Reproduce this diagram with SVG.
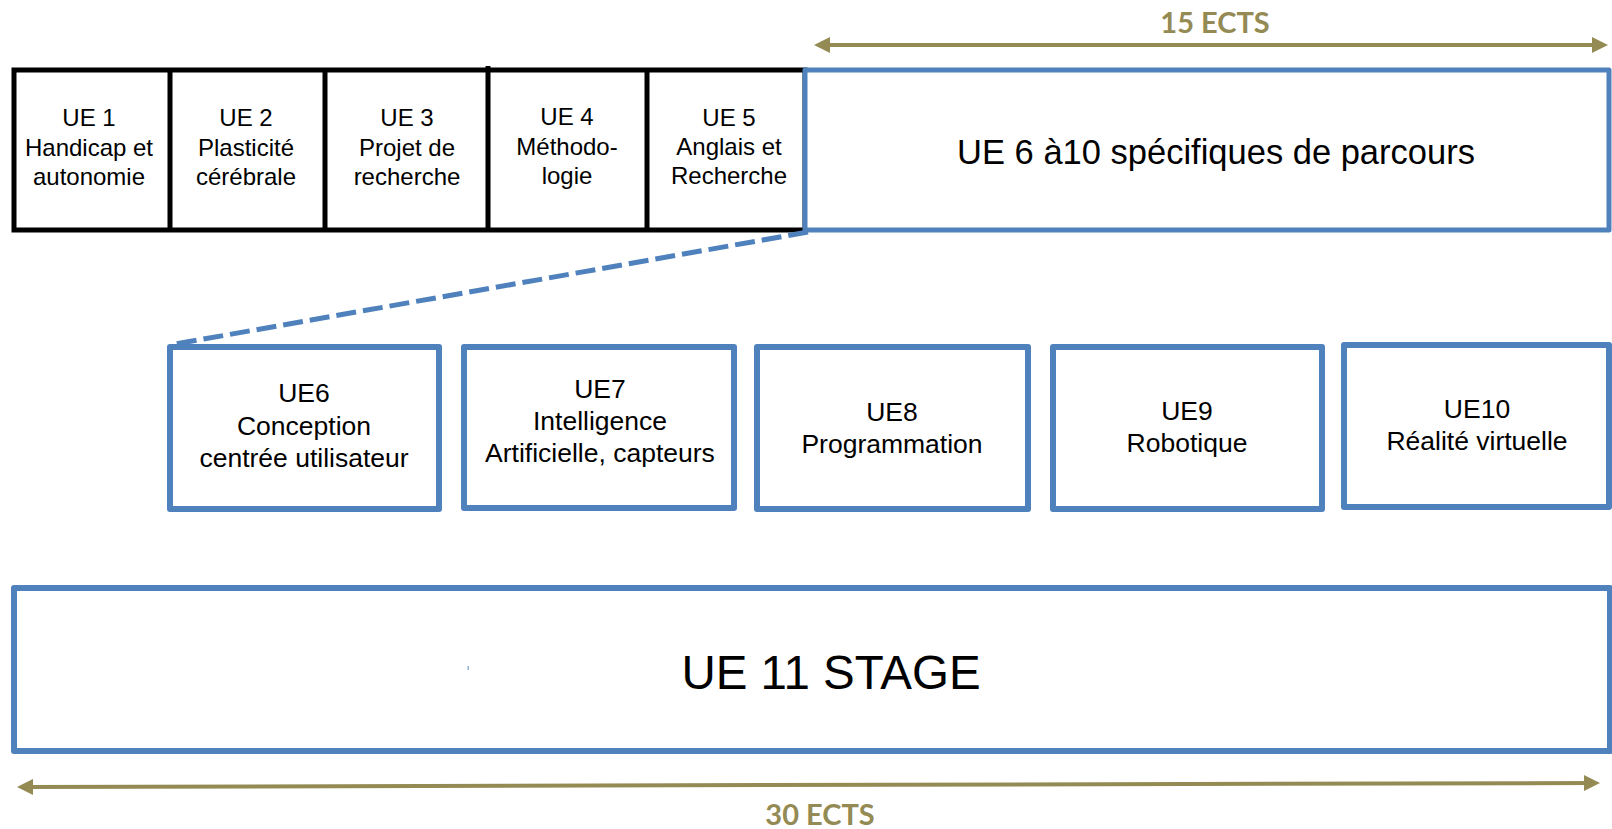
<svg xmlns="http://www.w3.org/2000/svg" width="1612" height="829" viewBox="0 0 1612 829">
  <style>
    .t { font-family: "Liberation Sans", Arial, sans-serif; fill: #000; text-anchor: middle; }
    .s { font-size: 24px; }
    .m { font-size: 26.5px; }
    .blk { fill: #fff; stroke: #000; stroke-width: 5; }
    .div { stroke: #000; stroke-width: 5; }
    .blu { fill: #fff; stroke: #4F81BD; stroke-width: 6; stroke-linejoin: round; }
    .ects { font-family: Lato, "Open Sans", sans-serif; font-weight: 700; font-size: 29px; fill: #948A54; text-anchor: middle; }
    .arr { stroke: #948A54; stroke-width: 4; fill: none; marker-start: url(#ah); marker-end: url(#ah); }
  </style>
  <defs>
    <marker id="ah" viewBox="0 0 16 16" refX="12" refY="8" markerWidth="16" markerHeight="16" markerUnits="userSpaceOnUse" orient="auto-start-reverse">
      <path d="M0,0 L16,8 L0,16 z" fill="#948A54"/>
    </marker>
  </defs>
  <rect width="1612" height="829" fill="#fff"/>

  <g id="top-row">
    <rect class="blk" x="14" y="70" width="791" height="160"/>
    <line class="div" x1="170" y1="70" x2="170" y2="230"/>
    <line class="div" x1="325" y1="70" x2="325" y2="230"/>
    <line class="div" x1="488" y1="66" x2="488" y2="228"/>
    <line class="div" x1="647" y1="70" x2="647" y2="230"/>
  </g>
  <g id="ue1">
    <text class="t s" x="89" y="126">UE 1</text>
    <text class="t s" x="89" y="156">Handicap et</text>
    <text class="t s" x="89" y="185">autonomie</text>
  </g>
  <g id="ue2">
    <text class="t s" x="246" y="126">UE 2</text>
    <text class="t s" x="246" y="156">Plasticité</text>
    <text class="t s" x="246" y="185">cérébrale</text>
  </g>
  <g id="ue3">
    <text class="t s" x="407" y="126">UE 3</text>
    <text class="t s" x="407" y="156">Projet de</text>
    <text class="t s" x="407" y="185">recherche</text>
  </g>
  <g id="ue4">
    <text class="t s" x="567" y="125">UE 4</text>
    <text class="t s" x="567" y="155">Méthodo-</text>
    <text class="t s" x="567" y="184">logie</text>
  </g>
  <g id="ue5">
    <text class="t s" x="729" y="126">UE 5</text>
    <text class="t s" x="729" y="155">Anglais et</text>
    <text class="t s" x="729" y="184">Recherche</text>
  </g>
  <g id="ue6-10">
    <rect class="blu" x="805" y="70" width="804" height="160" style="stroke-width:5"/>
    <text class="t" x="1216" y="164" style="font-size:34.5px">UE 6 à10 spécifiques de parcours</text>
  </g>

  <g id="connectors">
    <line x1="808" y1="232" x2="170" y2="345" stroke="#4F81BD" stroke-width="5" stroke-dasharray="20 7"/>
    <line class="arr" x1="818" y1="45" x2="1604" y2="45"/>
    <line class="arr" x1="21" y1="787" x2="1596" y2="783"/>
  </g>

  <g id="ue6">
    <rect class="blu" x="170" y="347" width="269" height="162"/>
    <text class="t m" x="304" y="402">UE6</text>
    <text class="t m" x="304" y="435">Conception</text>
    <text class="t m" x="304" y="467">centrée utilisateur</text>
  </g>
  <g id="ue7">
    <rect class="blu" x="464" y="347" width="270" height="161"/>
    <text class="t m" x="600" y="398">UE7</text>
    <text class="t m" x="600" y="430">Intelligence</text>
    <text class="t m" x="600" y="462">Artificielle, capteurs</text>
  </g>
  <g id="ue8">
    <rect class="blu" x="757" y="347" width="271" height="162"/>
    <text class="t m" x="892" y="421">UE8</text>
    <text class="t m" x="892" y="453">Programmation</text>
  </g>
  <g id="ue9">
    <rect class="blu" x="1053" y="347" width="269" height="162"/>
    <text class="t m" x="1187" y="420">UE9</text>
    <text class="t m" x="1187" y="452">Robotique</text>
  </g>
  <g id="ue10">
    <rect class="blu" x="1344" y="345" width="265" height="162"/>
    <text class="t m" x="1477" y="418">UE10</text>
    <text class="t m" x="1477" y="450">Réalité virtuelle</text>
  </g>

  <g id="ue11">
    <rect class="blu" x="14" y="588" width="1596" height="163"/>
    <text class="t" x="831" y="689" style="font-size:47.5px">UE 11 STAGE</text>
    <rect x="467.5" y="666" width="1.5" height="4" fill="#4F81BD" opacity="0.6"/>
  </g>

  <g id="labels">
    <text class="ects" x="1215" y="33">15 ECTS</text>
    <text class="ects" x="820" y="825">30 ECTS</text>
  </g>
</svg>
